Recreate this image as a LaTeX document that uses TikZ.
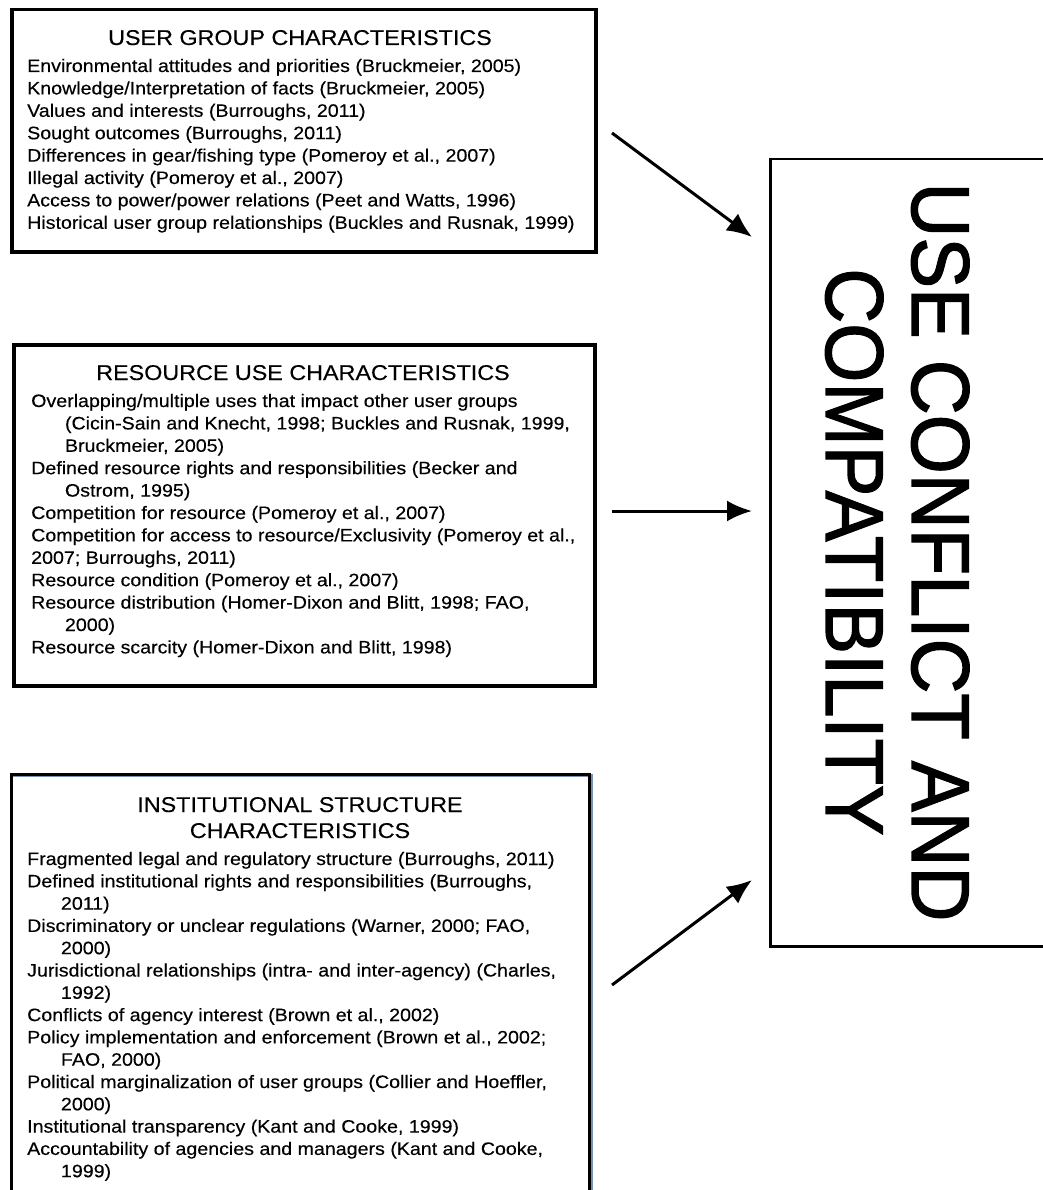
\documentclass[tikz,border=0pt]{standalone}
\usepackage{fontspec}
\setmainfont{Liberation Sans}
\newfontfamily\bigfont[FakeBold=1.6]{Liberation Sans}
\newfontfamily\bodyfont[FakeBold=0.25]{Liberation Sans}
\usetikzlibrary{arrows.meta}
\newcommand{\Lrow}[1]{\hbox{#1}}
\newcommand{\Irow}[1]{\hbox{\hskip31pt #1}}
\definecolor{bluegray}{HTML}{7890B4}
\begin{document}
\begin{tikzpicture}[x=1pt,y=-1pt,
  boxline/.style={draw=black, line width=3.5pt, inner sep=0pt, anchor=north west},
  bodytxt/.style={anchor=base west, inner sep=0pt, font=\bodyfont\fontsize{18}{22.4}\selectfont},
  titletxt/.style={anchor=base, inner sep=0pt, font=\bodyfont\fontsize{21.4}{26}\selectfont},
  bigtxt/.style={rotate=-90, anchor=base, inner sep=0pt, font=\bigfont\fontsize{76}{80}\selectfont},
  conn/.style={line width=3pt, -{Latex[length=25pt,width=21pt]}}]
\useasboundingbox (0,0) rectangle (1042,1190);
\fill[white] (0,0) rectangle (1042,1190);

% Box 1
\node[boxline, minimum width=584pt, minimum height=242pt] (ug) at (10,8) {};
\node[titletxt] (ugtitle) at (300,45) {\scalebox{1.09}[1]{USER GROUP CHARACTERISTICS}};
\node[bodytxt] (ugtext) at (27,72) {\scalebox{1.09}[1]{\vtop{\baselineskip=22.4pt
  \Lrow{Environmental attitudes and priorities (Bruckmeier, 2005)}
  \Lrow{Knowledge/Interpretation of facts (Bruckmeier, 2005)}
  \Lrow{Values and interests (Burroughs, 2011)}
  \Lrow{Sought outcomes (Burroughs, 2011)}
  \Lrow{Differences in gear/fishing type (Pomeroy et al., 2007)}
  \Lrow{Illegal activity (Pomeroy et al., 2007)}
  \Lrow{Access to power/power relations (Peet and Watts, 1996)}
  \Lrow{Historical user group relationships (Buckles and Rusnak, 1999)}}}};

% Box 2
\node[boxline, minimum width=581pt, minimum height=341pt] (ru) at (12,343) {};
\node[titletxt] (rutitle) at (303,380) {\scalebox{1.09}[1]{RESOURCE USE CHARACTERISTICS}};
\node[bodytxt] (rutext) at (31,407) {\scalebox{1.09}[1]{\vtop{\baselineskip=22.4pt
  \Lrow{Overlapping/multiple uses that impact other user groups}
  \Irow{(Cicin-Sain and Knecht, 1998; Buckles and Rusnak, 1999,}
  \Irow{Bruckmeier, 2005)}
  \Lrow{Defined resource rights and responsibilities (Becker and}
  \Irow{Ostrom, 1995)}
  \Lrow{Competition for resource (Pomeroy et al., 2007)}
  \Lrow{Competition for access to resource/Exclusivity (Pomeroy et al.,}
  \Lrow{2007; Burroughs, 2011)}
  \Lrow{Resource condition (Pomeroy et al., 2007)}
  \Lrow{Resource distribution (Homer-Dixon and Blitt, 1998; FAO,}
  \Irow{2000)}
  \Lrow{Resource scarcity (Homer-Dixon and Blitt, 1998)}}}};

% Box 3
\draw[bluegray, line width=3pt] (12,775) -- (591,775) -- (591,1200);
\node[boxline, draw=black, line width=2.5pt, minimum width=578pt, minimum height=440pt] (is) at (10,773) {};
\node[titletxt] (istitleA) at (300,812) {\scalebox{1.09}[1]{INSTITUTIONAL STRUCTURE}};
\node[titletxt] (istitleB) at (300,838) {\scalebox{1.09}[1]{CHARACTERISTICS}};
\node[bodytxt] (istext) at (27,865) {\scalebox{1.09}[1]{\vtop{\baselineskip=22.3pt
  \Lrow{Fragmented legal and regulatory structure (Burroughs, 2011)}
  \Lrow{Defined institutional rights and responsibilities (Burroughs,}
  \Irow{2011)}
  \Lrow{Discriminatory or unclear regulations (Warner, 2000; FAO,}
  \Irow{2000)}
  \Lrow{Jurisdictional relationships (intra- and inter-agency) (Charles,}
  \Irow{1992)}
  \Lrow{Conflicts of agency interest (Brown et al., 2002)}
  \Lrow{Policy implementation and enforcement (Brown et al., 2002;}
  \Irow{FAO, 2000)}
  \Lrow{Political marginalization of user groups (Collier and Hoeffler,}
  \Irow{2000)}
  \Lrow{Institutional transparency (Kant and Cooke, 1999)}
  \Lrow{Accountability of agencies and managers (Kant and Cooke,}
  \Irow{1999)}}}};

% Big box
\node[draw=black, line width=2.5pt, inner sep=0pt, anchor=north west,
      minimum width=290pt, minimum height=787pt] (ucc) at (769,158) {};
\node[bigtxt] (uccA) at (912,552) {\scalebox{1.0}[1.08]{USE CONFLICT AND}};
\node[bigtxt] (uccB) at (826,552) {\scalebox{1.0}[1.08]{COMPATIBILITY}};

% Connectors
\coordinate (a1s) at (612,133);
\coordinate (a1e) at (752,237);
\coordinate (a2s) at (612,511);
\coordinate (a2e) at (752,511);
\coordinate (a3s) at (612,985);
\coordinate (a3e) at (752,880);
\draw[conn] (a1s) -- (a1e);
\draw[conn] (a2s) -- (a2e);
\draw[conn] (a3s) -- (a3e);
\end{tikzpicture}
\end{document}
